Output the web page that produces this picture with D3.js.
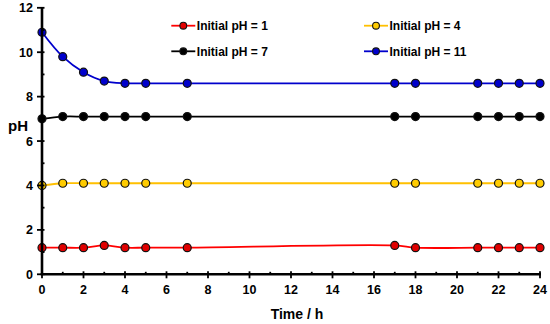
<!DOCTYPE html>
<html><head><meta charset="utf-8">
<script src="https://cdn.jsdelivr.net/npm/d3@7"></script>
<style>body{margin:0;background:#fff}svg{display:block;font-family:"Liberation Sans",Arial,sans-serif;font-weight:bold}</style>
</head><body>
<svg id="c" width="550" height="324"></svg>
<script>
const times = [0,1,2,3,4,5,7,17,18,21,22,23,24];
const ph1 = [1.2,1.2,1.2,1.3,1.2,1.2,1.2,1.3,1.2,1.2,1.2,1.2,1.2];
const ph4 = [4.0,4.1,4.1,4.1,4.1,4.1,4.1,4.1,4.1,4.1,4.1,4.1,4.1];
const ph7 = [7.0,7.1,7.1,7.1,7.1,7.1,7.1,7.1,7.1,7.1,7.1,7.1,7.1];
const ph11 = [10.9,9.8,9.1,8.7,8.6,8.6,8.6,8.6,8.6,8.6,8.6,8.6,8.6];
const seriesNames = ["Initial pH = 1","Initial pH = 4","Initial pH = 7","Initial pH = 11"];
const lineColors = ["#ff0000","#ffc000","#000000","#0000cc"];
const fillColors = ["#e00000","#ffcc00","#000000","#0000cc"];
const xTicks = d3.range(0,25,2);
const yTicks = d3.range(0,13,2);
const xLabel = "Time / h", yLabel = "pH";

const svg = d3.select("#c");
const x = d3.scaleLinear().domain([0,24]).range([42,540]);
const y = d3.scaleLinear().domain([0,12]).range([274.3,7.8]);

const seriesVals = [ph1,ph4,ph7,ph11];
const line = d3.line().x(d=>x(d[0])).y(d=>y(d[1])).curve(d3.curveCatmullRom.alpha(0.5));

seriesVals.forEach((vals,i)=>{
  const pts = times.map((t,k)=>[t,vals[k]]);
  svg.append("path").attr("d",line(pts)).attr("fill","none").attr("stroke",lineColors[i]).attr("stroke-width",1.8);
  svg.selectAll(null).data(pts).enter().append("circle")
    .attr("cx",d=>x(d[0])).attr("cy",d=>y(d[1])).attr("r",4.0)
    .attr("fill",fillColors[i]).attr("stroke","#111").attr("stroke-width",1.2);
});

// axes
const ax = svg.append("g");
ax.append("line").attr("x1",x(0)).attr("x2",x(0)).attr("y1",y(12)).attr("y2",y(0)).attr("stroke","#000").attr("stroke-width",2.6);
ax.append("line").attr("x1",x(0)-1.3).attr("x2",x(24)+1).attr("y1",y(0)).attr("y2",y(0)).attr("stroke","#000").attr("stroke-width",2.6);

d3.range(0,13,1).forEach(v=>{
  const major = v%2===0;
  ax.append("line").attr("x1",x(0)-(major?5:0)).attr("x2",x(0)+2.5)
    .attr("y1",y(v)).attr("y2",y(v)).attr("stroke","#000").attr("stroke-width",1.8);
});
yTicks.forEach(v=>{
  ax.append("text").attr("x",33).attr("y",y(v)).attr("dy","0.36em").attr("text-anchor","end")
    .attr("font-size",12.5).text(v);
});
d3.range(0,25,1).forEach(v=>{
  const major = v%2===0;
  ax.append("line").attr("x1",x(v)).attr("x2",x(v))
    .attr("y1",y(0)-(major?3:2.5)).attr("y2",y(0)+(major?4:0)).attr("stroke","#000").attr("stroke-width",1.8);
});
xTicks.forEach(v=>{
  ax.append("text").attr("x",x(v)).attr("y",289).attr("dy","0.36em").attr("text-anchor","middle")
    .attr("font-size",12.5).text(v);
});

svg.append("text").attr("x",297).attr("y",314).attr("dy","0.36em").attr("text-anchor","middle").attr("font-size",14).text(xLabel);
svg.append("text").attr("x",18).attr("y",126).attr("dy","0.36em").attr("text-anchor","middle").attr("font-size",15).text(yLabel);

const legPos = [[183.3,25.7],[376,25.7],[183.3,51.3],[376,51.3]];
seriesNames.forEach((n,i)=>{
  const [cx,cy] = legPos[i];
  const g = svg.append("g");
  g.append("line").attr("x1",cx-12).attr("x2",cx+12).attr("y1",cy).attr("y2",cy).attr("stroke",lineColors[i]).attr("stroke-width",1.8);
  g.append("circle").attr("cx",cx).attr("cy",cy).attr("r",3.4).attr("fill",fillColors[i]).attr("stroke","#111").attr("stroke-width",1.1);
  g.append("text").attr("x",cx+13.5).attr("y",cy).attr("dy","0.36em").attr("font-size",12).text(n);
});
</script>
</body></html>
